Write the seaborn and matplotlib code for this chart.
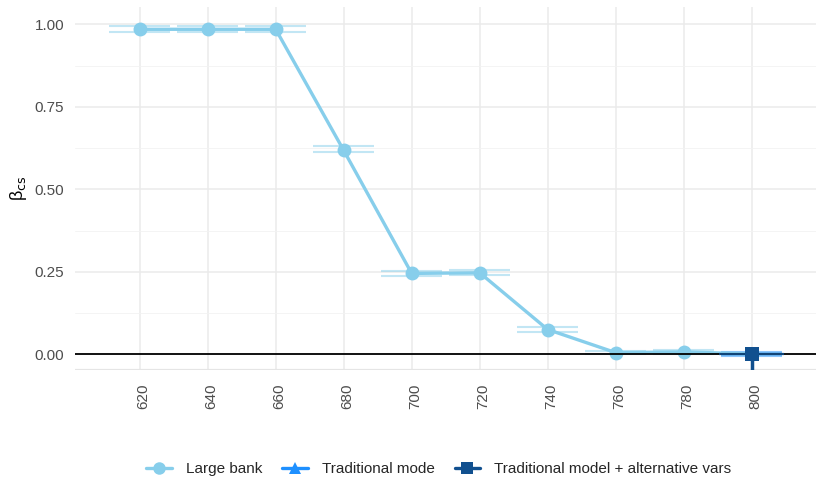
import numpy as np
import pandas as pd
import seaborn as sns
import matplotlib
matplotlib.use("Agg")
import matplotlib.pyplot as plt
import matplotlib.transforms as mtransforms
from matplotlib.lines import Line2D

# Threshold scores and coefficient estimates
scores = [620, 640, 660, 680, 700, 720, 740, 760, 780, 800]
large_bank = [0.985, 0.985, 0.985, 0.618, 0.245, 0.247, 0.075, 0.005, 0.007, 0.001]
large_bank_lo = [0.976, 0.976, 0.976, 0.612, 0.238, 0.240, 0.067, 0.000, 0.001, -0.003]
large_bank_hi = [0.994, 0.994, 0.994, 0.630, 0.252, 0.254, 0.083, 0.010, 0.013, 0.005]

trad_scores = [800]
trad = [0.0]
trad_lo = [-0.006]
trad_hi = [0.006]

alt_scores = [800]
alt = [0.0]
alt_lo = [-0.07]
alt_hi = [0.0]

series_names = ["Large bank", "Traditional mode", "Traditional model + alternative vars"]
colors = ["#87CEEB", "#1E90FF", "#11508F"]
markers = ["o", "^", "s"]

df = pd.concat([
    pd.DataFrame({"score": scores, "beta": large_bank, "lo": large_bank_lo,
                  "hi": large_bank_hi, "model": series_names[0]}),
    pd.DataFrame({"score": trad_scores, "beta": trad, "lo": trad_lo,
                  "hi": trad_hi, "model": series_names[1]}),
    pd.DataFrame({"score": alt_scores, "beta": alt, "lo": alt_lo,
                  "hi": alt_hi, "model": series_names[2]}),
], ignore_index=True)

sns.set_theme(style="whitegrid")
plt.rcParams["font.family"] = ["Liberation Sans", "DejaVu Sans"]

fig = plt.figure(figsize=(8.17, 4.80), dpi=100)
ax = fig.add_axes([0.092, 0.229, 0.907, 0.756])

cap_half = 9.0
for name, col, mk in zip(series_names[:2], colors[:2], markers[:2]):
    sub = df[df["model"] == name]
    # error bars: vertical whisker plus wide horizontal caps
    ax.vlines(sub["score"], sub["lo"], sub["hi"], color=col, lw=1.5, alpha=0.6, zorder=2)
    ax.hlines(sub["lo"], sub["score"] - cap_half, sub["score"] + cap_half,
              color=col, lw=1.5, alpha=0.5, zorder=2)
    ax.hlines(sub["hi"], sub["score"] - cap_half, sub["score"] + cap_half,
              color=col, lw=1.5, alpha=0.5, zorder=2)

sns.lineplot(data=df[df["model"] != series_names[2]], x="score", y="beta",
             hue="model", style="model", hue_order=series_names[:2],
             palette=colors[:2], markers=markers[:2], dashes=False, lw=2.4,
             markersize=10, markeredgewidth=0, legend=False, ax=ax, zorder=3)

ax.axhline(0, color="black", lw=1.3, zorder=4)
# alternative-variables model drawn over the zero line
alt_df = df[df["model"] == series_names[2]]
ax.vlines(alt_df["score"], alt_df["lo"], alt_df["hi"], color=colors[2], lw=2.5, zorder=5)
ax.hlines(alt_df["hi"], alt_df["score"] - 9.5, alt_df["score"] + 9.5,
          color=colors[2], lw=1.6, alpha=0.8, zorder=5)
sns.scatterplot(data=alt_df, x="score", y="beta", marker="s", s=90,
                color=colors[2], linewidth=0, legend=False, ax=ax, zorder=6)

ax.set_xlim(601, 819)
ax.set_ylim(-0.048, 1.052)
ax.set_xticks(scores)
ax.set_xticklabels([str(s) for s in scores], rotation=90)
ax.set_yticks([0, 0.25, 0.5, 0.75, 1.0])
ax.set_yticklabels(["0.00", "0.25", "0.50", "0.75", "1.00"])
ax.set_yticks([0.125, 0.375, 0.625, 0.875], minor=True)
ax.grid(True, which="major", color="#EBEBEB", lw=1.1)
ax.grid(True, which="minor", axis="y", color="#F2F2F2", lw=0.6)
ax.axhline(-0.048, color="#E5E5E5", lw=1.6, zorder=1)
for sp in ax.spines.values():
    sp.set_visible(False)
ax.tick_params(axis="both", which="both", length=0, labelsize=11,
               labelcolor="#4D4D4D")
ax.tick_params(axis="x", pad=10)
ax.tick_params(axis="y", pad=8)
shift = mtransforms.ScaledTranslation(4 / 100, 0, fig.dpi_scale_trans)
for lbl in ax.get_xticklabels():
    lbl.set_transform(lbl.get_transform() + shift)
ax.set_xlabel("")
ax.set_ylabel(r"β$_{\mathrm{cs}}$", fontsize=13, color="black", labelpad=4)

handles = [Line2D([0], [0], color=c, lw=2.4, marker=m, markersize=9,
                  markeredgewidth=0) for c, m in zip(colors, markers)]
fig.legend(handles, series_names, loc="center", bbox_to_anchor=(0.537, 0.022),
           ncol=3, frameon=False, fontsize=11, handlelength=1.7,
           columnspacing=1.3, handletextpad=0.9)

fig.savefig("out.png", dpi=100, facecolor="white")
